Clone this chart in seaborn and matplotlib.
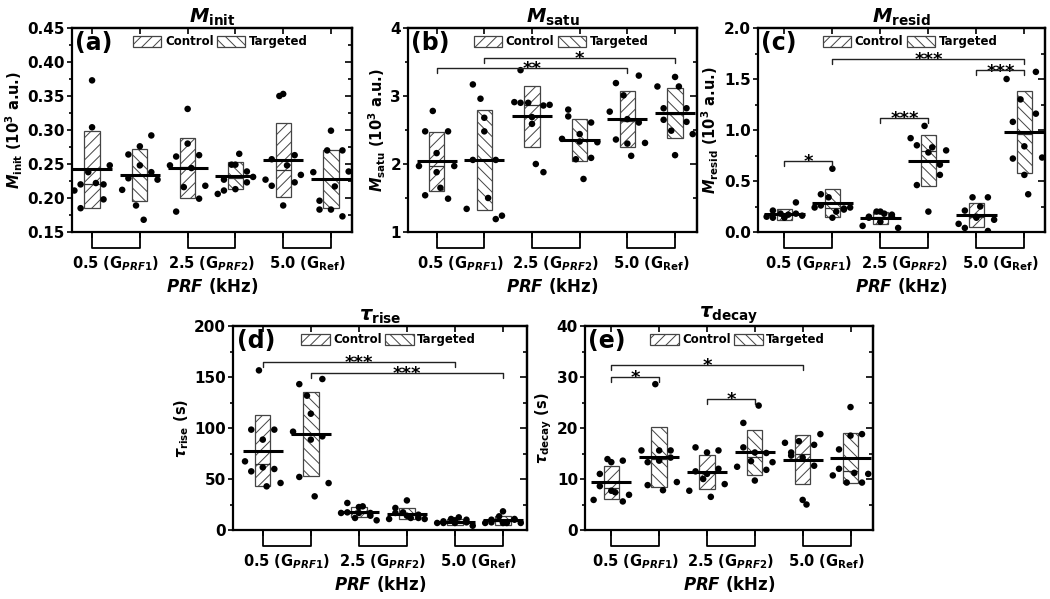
import numpy as np
import pandas as pd
import matplotlib
matplotlib.use("Agg")
import matplotlib.pyplot as plt
from matplotlib.patches import Patch
from matplotlib.ticker import MultipleLocator, FormatStrFormatter
from matplotlib.transforms import blended_transform_factory
import seaborn as sns

# ---------------- data ----------------
GROUP_LABELS = [r"0.5 (G$_{PRF1}$)", r"2.5 (G$_{PRF2}$)", r"5.0 (G$_{\rm Ref}$)"]
CONDITIONS = ["Control", "Targeted"]
# order of boxes in every panel: C0.5, T0.5, C2.5, T2.5, C5.0, T5.0

MINIT_POINTS = [
    [0.211, 0.220, 0.185, 0.238, 0.373, 0.304, 0.222, 0.198, 0.220, 0.248],
    [0.212, 0.229, 0.264, 0.189, 0.276, 0.248, 0.168, 0.238, 0.292, 0.227],
    [0.248, 0.261, 0.180, 0.216, 0.280, 0.331, 0.244, 0.199, 0.263, 0.218],
    [0.206, 0.211, 0.227, 0.249, 0.213, 0.249, 0.265, 0.239, 0.223, 0.231],
    [0.227, 0.218, 0.257, 0.350, 0.353, 0.189, 0.248, 0.263, 0.223, 0.234],
    [0.238, 0.196, 0.183, 0.270, 0.183, 0.299, 0.217, 0.270, 0.173, 0.239],
]
MINIT_MEAN = [0.242, 0.234, 0.244, 0.233, 0.256, 0.228]
MINIT_SD = [0.0565, 0.0385, 0.044, 0.020, 0.054, 0.043]

MSATU_POINTS = [
    [1.97, 1.54, 2.48, 2.78, 2.16, 1.88, 1.65, 2.48, 1.49, 1.97],
    [1.34, 2.06, 3.17, 2.96, 2.68, 2.48, 1.50, 1.19, 2.06, 1.24],
    [2.91, 2.90, 3.38, 2.90, 2.69, 2.59, 2.00, 1.88, 2.86, 2.87],
    [2.37, 2.80, 2.70, 2.07, 2.44, 2.33, 1.78, 2.61, 2.09, 2.32],
    [2.77, 2.36, 3.19, 3.01, 2.66, 2.30, 2.12, 3.30, 2.61, 2.31],
    [3.14, 2.82, 2.65, 2.49, 3.28, 2.13, 3.14, 2.82, 2.62, 2.44],
]
MSATU_MEAN = [2.04, 2.06, 2.70, 2.35, 2.66, 2.75]
MSATU_SD = [0.435, 0.735, 0.45, 0.31, 0.41, 0.37]

MRESID_POINTS = [
    [0.15, 0.14, 0.21, 0.18, 0.15, 0.14, 0.17, 0.29, 0.18, 0.16],
    [0.24, 0.37, 0.26, 0.34, 0.62, 0.14, 0.20, 0.22, 0.23, 0.24],
    [0.06, 0.15, 0.14, 0.20, 0.10, 0.20, 0.18, 0.17, 0.15, 0.04],
    [0.92, 0.85, 0.46, 1.04, 0.78, 0.20, 0.83, 0.66, 0.56, 0.80],
    [0.08, 0.04, 0.21, 0.34, 0.14, 0.15, 0.25, 0.34, 0.01, 0.12],
    [1.50, 1.08, 0.72, 1.30, 0.84, 0.56, 0.37, 1.57, 1.16, 0.73],
]
MRESID_MEAN = [0.176, 0.284, 0.137, 0.70, 0.17, 0.98]
MRESID_SD = [0.054, 0.14, 0.059, 0.248, 0.119, 0.404]

TRISE_POINTS = [
    [67.3, 57.5, 98.4, 156.5, 88.6, 61.4, 42.8, 98.4, 59.8, 46.1],
    [96.4, 143.0, 52.0, 131.7, 114.0, 88.6, 33.0, 148.0, 91.8, 46.0],
    [16.7, 17.3, 26.5, 11.8, 16.7, 22.5, 23.2, 16.7, 14.0, 9.5],
    [10.8, 16.7, 21.6, 17.3, 14.0, 29.0, 11.8, 15.0, 11.8, 10.8],
    [6.9, 8.5, 6.9, 10.8, 9.5, 6.9, 12.4, 10.1, 7.5, 4.2],
    [6.9, 7.5, 10.1, 13.4, 6.9, 18.3, 6.9, 10.1, 10.8, 6.9],
]
TRISE_MEAN = [77.8, 94.4, 17.3, 15.7, 7.8, 9.5]
TRISE_SD = [34.6, 41.0, 4.9, 5.4, 2.5, 4.4]

TDECAY_POINTS = [
    [5.9, 11.0, 8.6, 13.9, 7.7, 13.3, 7.4, 13.6, 5.6, 6.9],
    [15.6, 13.3, 8.8, 28.6, 15.6, 13.6, 7.8, 15.6, 14.2, 9.4],
    [7.7, 16.2, 11.5, 10.0, 15.2, 11.0, 6.5, 15.6, 12.0, 9.0],
    [12.4, 16.2, 21.0, 13.5, 15.2, 9.7, 24.4, 11.8, 15.1, 13.3],
    [17.1, 15.2, 14.6, 17.4, 14.2, 5.9, 5.0, 16.7, 12.6, 18.8],
    [10.7, 15.8, 12.0, 9.3, 24.1, 18.5, 11.2, 9.3, 18.8, 11.0],
]
TDECAY_MEAN = [9.35, 14.25, 11.4, 15.2, 13.8, 14.1]
TDECAY_SD = [3.2, 5.85, 3.35, 4.4, 4.75, 4.95]

# significance brackets: (box i, box j, height, label)
MSATU_SIG = [(1, 5, 3.41, "**"), (2, 6, 3.56, "*")]
MRESID_SIG = [(1, 2, 0.70, "*"), (2, 6, 1.70, "***"), (3, 4, 1.12, "***"), (5, 6, 1.585, "***")]
TRISE_SIG = [(1, 5, 165.0, "***"), (2, 6, 154.0, "***")]
TDECAY_SIG = [(1, 2, 30.0, "*"), (1, 5, 32.4, "*"), (3, 4, 25.7, "*")]

# ---------------- style ----------------
sns.set_theme(style="ticks")
plt.rcParams["font.family"] = ["DejaVu Sans"]
plt.rcParams["font.weight"] = "bold"
for key in ["text.color", "axes.labelcolor", "xtick.color", "ytick.color", "axes.edgecolor"]:
    plt.rcParams[key] = "black"
plt.rcParams["mathtext.fontset"] = "custom"
plt.rcParams["mathtext.rm"] = "DejaVu Sans:bold"
plt.rcParams["mathtext.bf"] = "DejaVu Sans:bold"
plt.rcParams["mathtext.it"] = "DejaVu Sans:italic:bold"
plt.rcParams["mathtext.sf"] = "DejaVu Sans:bold"
plt.rcParams["hatch.linewidth"] = 0.7
plt.rcParams["hatch.color"] = "#444444"

HATCHES = ["///", "\\\\\\"]
POSITIONS = np.arange(1, 7)
JITTER = np.array([-0.37, -0.24, -0.24, -0.08, 0.0, 0.0, 0.08, 0.24, 0.24, 0.37])
BOX_W = 0.32
MEAN_HALF = 0.42

W, H = 1050, 599
fig = plt.figure(figsize=(W / 100, H / 100), dpi=100)


def px_axes(left, right, top, bottom):
    return fig.add_axes([left / W, 1 - bottom / H, (right - left) / W, (bottom - top) / H])


PANELS = [
    dict(box=(72, 352, 28, 232), xlim=(0.58, 6.44), pts=MINIT_POINTS, mean=MINIT_MEAN, sd=MINIT_SD,
         ylim=(0.15, 0.45), major=0.05, fmt="%.2f", sig=[], letter="(a)",
         title=r"$M_{\rm init}$", ylabel=r"$M_{\rm init}$ (10$^{\rm 3}$ a.u.)"),
    dict(box=(408, 697, 28, 232), xlim=(0.40, 6.46), pts=MSATU_POINTS, mean=MSATU_MEAN, sd=MSATU_SD,
         ylim=(1, 4), major=1, fmt="%d", sig=MSATU_SIG, letter="(b)",
         title=r"$M_{\rm satu}$", ylabel=r"$M_{\rm satu}$ (10$^{\rm 3}$ a.u.)"),
    dict(box=(758, 1045, 28, 232), xlim=(0.45, 6.43), pts=MRESID_POINTS, mean=MRESID_MEAN, sd=MRESID_SD,
         ylim=(0, 2), major=0.5, fmt="%.1f", sig=MRESID_SIG, letter="(c)",
         title=r"$M_{\rm resid}$", ylabel=r"$M_{\rm resid}$ (10$^{\rm 3}$ a.u.)"),
    dict(box=(233, 527, 326, 530), xlim=(0.38, 6.50), pts=TRISE_POINTS, mean=TRISE_MEAN, sd=TRISE_SD,
         ylim=(0, 200), major=50, fmt="%d", sig=TRISE_SIG, letter="(d)",
         title=r"$\tau_{\rm rise}$", ylabel=r"$\tau_{\rm rise}$ (s)"),
    dict(box=(585, 873, 326, 530), xlim=(0.45, 6.47), pts=TDECAY_POINTS, mean=TDECAY_MEAN, sd=TDECAY_SD,
         ylim=(0, 40), major=10, fmt="%d", sig=TDECAY_SIG, letter="(e)",
         title=r"$\tau_{\rm decay}$", ylabel=r"$\tau_{\rm decay}$ (s)"),
]

for p in PANELS:
    ax = px_axes(*p["box"])
    ymin, ymax = p["ylim"]
    yr = ymax - ymin

    # long-form table of points
    rows = []
    for k, vals in enumerate(p["pts"]):
        for j, v in enumerate(vals):
            rows.append(dict(pos=POSITIONS[k], xj=POSITIONS[k] + JITTER[j], value=v,
                             condition=CONDITIONS[k % 2]))
    df = pd.DataFrame(rows)
    medians = df.groupby("pos")["value"].median()

    # boxes = mean +/- SD
    for k in range(6):
        m, s = p["mean"][k], p["sd"][k]
        ax.bar(POSITIONS[k], 2 * s, bottom=m - s, width=BOX_W, facecolor="white",
               edgecolor="#444444", linewidth=0.9, hatch=HATCHES[k % 2], zorder=2)
        ax.hlines(medians.loc[POSITIONS[k]], POSITIONS[k] - BOX_W / 2, POSITIONS[k] + BOX_W / 2,
                  color="#333333", linewidth=0.9, zorder=2.5)

    sns.scatterplot(data=df, x="xj", y="value", color="black", s=22, edgecolor="none",
                    legend=False, ax=ax, zorder=3)

    ax.hlines(p["mean"], POSITIONS - MEAN_HALF, POSITIONS + MEAN_HALF, color="black",
              linewidth=2.2, zorder=4)

    # significance brackets
    tick = 0.025 * yr
    for i, j, h, lab in p["sig"]:
        ax.plot([i, i, j, j], [h - tick, h, h, h - tick], color="#222222", linewidth=1.0, zorder=5)
        ax.annotate(lab, xy=((i + j) / 2, h), xytext=(0, -4.5), textcoords="offset points",
                    ha="center", va="baseline", fontsize=13, fontweight="bold")

    # axes formatting
    ax.set_xlim(*p["xlim"])
    ax.set_ylim(ymin, ymax)
    ax.set_xticks(POSITIONS)
    ax.set_xticklabels([])
    ax.set_xticks([1.5, 3.5, 5.5], labels=GROUP_LABELS, minor=True)
    ax.yaxis.set_major_locator(MultipleLocator(p["major"]))
    ax.yaxis.set_minor_locator(MultipleLocator(p["major"] / 2))
    ax.yaxis.set_major_formatter(FormatStrFormatter(p["fmt"]))
    ax.tick_params(axis="y", which="both", direction="out", left=True, right=False,
                   labelsize=11, width=1.2, pad=1.5)
    ax.tick_params(axis="y", which="major", length=3.5)
    ax.tick_params(axis="y", which="minor", length=2)
    ax.tick_params(axis="x", which="major", direction="out", length=4, width=1.2, bottom=True)
    ax.tick_params(axis="x", which="minor", length=0, pad=16, labelsize=10.5)
    for lbl in ax.get_yticklabels() + ax.get_xticklabels(minor=True):
        lbl.set_fontweight("bold")

    # inward ticks on top and right
    sec_y = ax.secondary_yaxis("right")
    sec_y.yaxis.set_major_locator(MultipleLocator(p["major"]))
    sec_y.yaxis.set_minor_locator(MultipleLocator(p["major"] / 2))
    sec_y.tick_params(which="both", direction="in", labelright=False, width=1.2)
    sec_y.tick_params(which="major", length=5)
    sec_y.tick_params(which="minor", length=3)
    sec_x = ax.secondary_xaxis("top")
    sec_x.set_xticks(POSITIONS)
    sec_x.tick_params(direction="in", length=4, width=1.2, labeltop=False)

    for sp in list(ax.spines.values()) + [sec_y.spines["right"], sec_x.spines["top"]]:
        sp.set_linewidth(1.6)
        sp.set_color("black")

    # group brackets hanging below the axis
    trans = blended_transform_factory(ax.transData, ax.transAxes)
    depth = -16 / 204
    for g in range(3):
        a, b = POSITIONS[2 * g], POSITIONS[2 * g + 1]
        ax.plot([a, a, b, b], [0, depth, depth, 0], transform=trans, clip_on=False,
                color="black", linewidth=1.3)

    ax.set_xlabel(r"$PRF$ (kHz)", fontsize=12, fontweight="bold", labelpad=2)
    ax.set_ylabel(p["ylabel"], fontsize=10.5, fontweight="bold", labelpad=2)
    ax.set_title(p["title"], fontsize=14, fontweight="bold", pad=2)

    ax.text(0.012, 0.985, p["letter"], transform=ax.transAxes, ha="left", va="top",
            fontsize=17, fontweight="bold")

    handles = [Patch(facecolor="white", edgecolor="#444444", hatch=HATCHES[0], linewidth=0.9),
               Patch(facecolor="white", edgecolor="#444444", hatch=HATCHES[1], linewidth=0.9)]
    ax.legend(handles, CONDITIONS, loc="upper center", bbox_to_anchor=(0.53, 0.975), ncol=2,
              frameon=False, prop={"weight": "bold", "size": 8.5}, handlelength=2.4,
              handleheight=1.1, handletextpad=0.3, columnspacing=0.3, borderaxespad=0,
              borderpad=0.2)

fig.savefig("out.png", dpi=100)
